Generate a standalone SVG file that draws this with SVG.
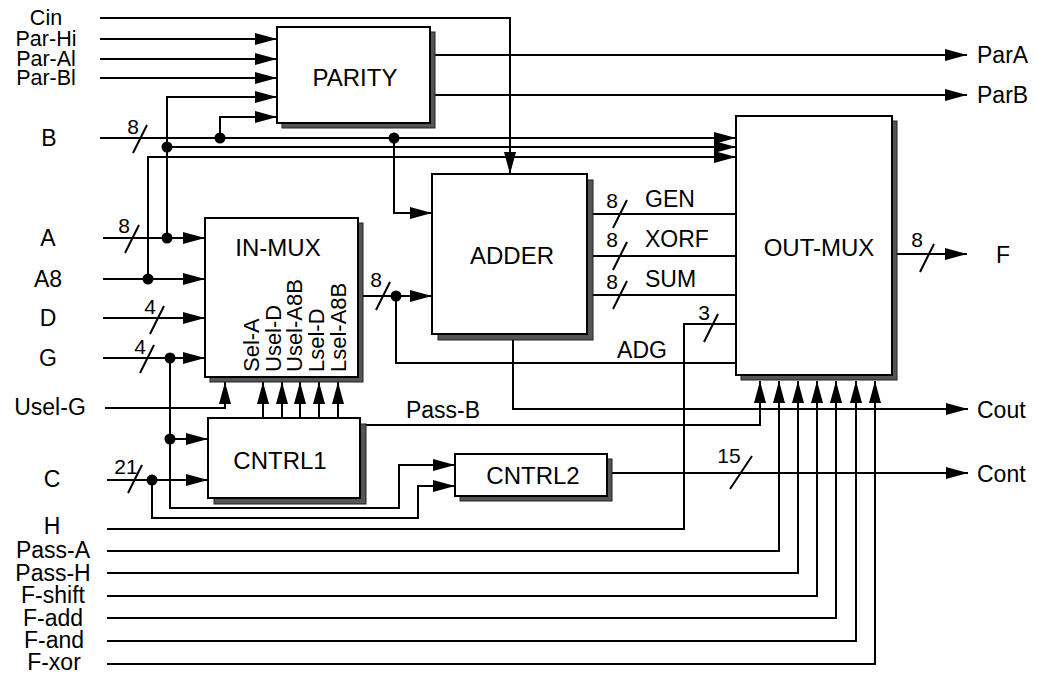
<svg xmlns="http://www.w3.org/2000/svg" width="1037" height="676" viewBox="0 0 1037 676">
<style>
.w{fill:none;stroke:#000;stroke-width:2}
.a{marker-end:url(#ah)}
.box{fill:#fff;stroke:#000;stroke-width:2}
.sh{fill:#555;stroke:#222;stroke-width:1}
.dot{fill:#000}
text{font-family:"Liberation Sans",Arial,Helvetica,sans-serif;font-size:23px;fill:#000}
.m{text-anchor:middle}
.t{font-size:21.5px;text-anchor:middle}
.bl{font-size:24px;text-anchor:middle}
.r{font-size:22px}
.n{font-size:21px;text-anchor:middle}
</style>
<defs>
<marker id="ah" markerUnits="userSpaceOnUse" markerWidth="22" markerHeight="12" refX="22" refY="6" orient="auto">
<path d="M0,0 L22,6 L0,12 z" fill="#000"/>
</marker>
</defs>

<g id="labels">
<text class="t" x="46" y="25">Cin</text>
<text class="t" x="46" y="46">Par-Hi</text>
<text class="t" x="46" y="66">Par-Al</text>
<text class="t" x="46" y="85">Par-Bl</text>
<text class="m" x="49" y="146">B</text>
<text class="m" x="48" y="246">A</text>
<text class="m" x="48" y="287">A8</text>
<text class="m" x="48" y="326">D</text>
<text class="m" x="48" y="366">G</text>
<text class="m" x="50" y="415">Usel-G</text>
<text class="m" x="52" y="487">C</text>
<text class="m" x="52" y="534">H</text>
<text class="m" x="53" y="558">Pass-A</text>
<text class="m" x="53" y="581">Pass-H</text>
<text class="m" x="53" y="603">F-shift</text>
<text class="m" x="53" y="626">F-add</text>
<text class="m" x="54" y="648">F-and</text>
<text class="m" x="54" y="670">F-xor</text>
<text x="977" y="63">ParA</text>
<text x="977" y="103">ParB</text>
<text x="996" y="263">F</text>
<text x="977" y="418">Cout</text>
<text x="977" y="482">Cont</text>
<text x="645" y="207">GEN</text>
<text x="645" y="247">XORF</text>
<text x="645" y="287">SUM</text>
<text class="m" x="642" y="358">ADG</text>
<text class="m" x="443" y="418">Pass-B</text>
</g>

<g id="connectors">
<path class="w a" d="M100,18 H510 V174"/>
<path class="w a" d="M100,39 H277"/>
<path class="w a" d="M100,59 H277"/>
<path class="w a" d="M100,78 H277"/>
<path class="w a" d="M167,238 V97 H277"/>
<path class="w a" d="M220,138 V117 H277"/>
<path class="w a" d="M100,138 H736"/>
<path class="w a" d="M167,147 H736"/>
<path class="w a" d="M148,279 V157 H736"/>
<path class="w a" d="M394,138 V213 H432"/>
<path class="w a" d="M435,55 H967"/>
<path class="w a" d="M435,95 H967"/>
<path class="w a" d="M103,238 H205"/>
<path class="w a" d="M103,279 H205"/>
<path class="w a" d="M103,318 H205"/>
<path class="w a" d="M103,358 H205"/>
<path class="w a" d="M105,408 H225 V382"/>
<path class="w a" d="M263,418 V382"/>
<path class="w a" d="M282,418 V382"/>
<path class="w a" d="M300,418 V382"/>
<path class="w a" d="M319,418 V382"/>
<path class="w a" d="M338,418 V382"/>
<path class="w a" d="M363,296 H432"/>
<path class="w" d="M396,296 V363 H736"/>
<path class="w" d="M593,214 H736"/>
<path class="w" d="M593,256 H736"/>
<path class="w" d="M593,295 H736"/>
<path class="w a" d="M513,340 V409 H968"/>
<path class="w" d="M107,529 H684 V324 H736"/>
<path class="w a" d="M897,254 H967"/>
<path class="w a" d="M366,425 H760 V381"/>
<path class="w a" d="M107,551 H779 V381"/>
<path class="w a" d="M107,573 H798 V381"/>
<path class="w a" d="M107,596 H817 V381"/>
<path class="w a" d="M107,618 H836 V381"/>
<path class="w a" d="M107,641 H856 V381"/>
<path class="w a" d="M107,664 H875 V381"/>
<path class="w a" d="M170,358 V508 H399 V465 H455"/>
<path class="w a" d="M170,439 H208"/>
<path class="w a" d="M107,480 H208"/>
<path class="w a" d="M152,480 V518 H418 V486 H455"/>
<path class="w a" d="M612,473 H968"/>
<circle class="dot" cx="167" cy="238" r="5.5"/>
<circle class="dot" cx="148" cy="279" r="5.5"/>
<circle class="dot" cx="170" cy="358" r="5.5"/>
<circle class="dot" cx="167" cy="147" r="5.5"/>
<circle class="dot" cx="220" cy="138" r="5.5"/>
<circle class="dot" cx="394" cy="138" r="5.5"/>
<circle class="dot" cx="396" cy="296" r="5.5"/>
<circle class="dot" cx="170" cy="439" r="5.5"/>
<circle class="dot" cx="152" cy="480" r="5.5"/>
<path class="w" d="M147,125 L133,153 M139,225 L125,253 M164,306 L150,334 M154,345 L140,373 M390,282 L376,310 M627,200 L613,228 M627,242 L613,270 M627,281 L613,309 M718,314 L704,342 M934,244 L920,272 M142,465 L128,493 M752,456 L730,489"/>
<text class="n" x="133" y="134">8</text>
<text class="n" x="124" y="233">8</text>
<text class="n" x="150" y="314">4</text>
<text class="n" x="140" y="354">4</text>
<text class="n" x="376" y="287">8</text>
<text class="n" x="612" y="208">8</text>
<text class="n" x="612" y="247">8</text>
<text class="n" x="612" y="289">8</text>
<text class="n" x="704" y="320">3</text>
<text class="n" x="917" y="247">8</text>
<text class="n" x="126" y="474">21</text>
<text class="n" x="729" y="463">15</text>
</g>

<g id="parity">
<rect class="sh" x="282" y="32" width="153" height="96"/>
<rect class="box" x="277" y="27" width="153" height="96"/>
<text class="bl" x="355" y="86">PARITY</text>
</g>
<g id="in-mux">
<rect class="sh" x="210" y="223" width="153" height="159"/>
<rect class="box" x="205" y="218" width="153" height="159"/>
<text class="bl" x="278" y="256">IN-MUX</text>
<text class="r" transform="translate(259,372) rotate(-90)">Sel-A</text>
<text class="r" transform="translate(281,372) rotate(-90)">Usel-D</text>
<text class="r" transform="translate(302,372) rotate(-90)">Usel-A8B</text>
<text class="r" transform="translate(324,372) rotate(-90)">Lsel-D</text>
<text class="r" transform="translate(346,372) rotate(-90)">Lsel-A8B</text>
</g>
<g id="adder">
<rect class="sh" x="438" y="180" width="155" height="160"/>
<rect class="box" x="432" y="174" width="155" height="160"/>
<text class="bl" x="512" y="264">ADDER</text>
</g>
<g id="out-mux">
<rect class="sh" x="741" y="121" width="156" height="259"/>
<rect class="box" x="736" y="116" width="156" height="259"/>
<text class="bl" x="819" y="256">OUT-MUX</text>
</g>
<g id="cntrl1">
<rect class="sh" x="214" y="424" width="152" height="80"/>
<rect class="box" x="208" y="418" width="152" height="80"/>
<text class="bl" x="280" y="469">CNTRL1</text>
</g>
<g id="cntrl2">
<rect class="sh" x="460" y="459" width="152" height="42"/>
<rect class="box" x="455" y="454" width="152" height="42"/>
<text class="bl" x="533" y="484">CNTRL2</text>
</g>
</svg>
